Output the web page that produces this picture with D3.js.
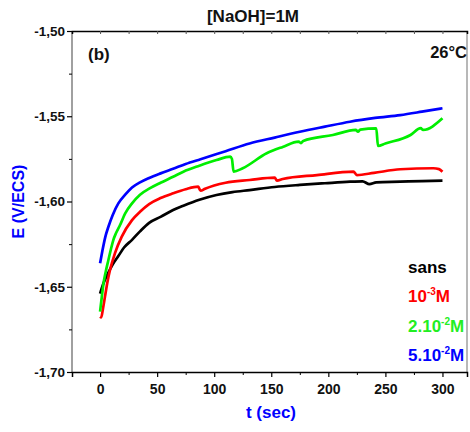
<!DOCTYPE html>
<html>
<head>
<meta charset="utf-8">
<script src="https://cdn.jsdelivr.net/npm/d3@7"></script>
<style>
  body { margin: 0; background: #fff; }
  text { font-family: "Liberation Sans", Arial, sans-serif; font-weight: bold; }
</style>
</head>
<body>
<div id="chart"></div>
<script>
// values (t in sec, E in V/ECS)
var tSans = [0, 3, 7, 11, 16, 21, 28, 35, 43, 53, 64, 73, 87, 102, 116, 131, 153, 175, 197, 219, 230, 236, 242, 263, 282, 300];
var eSans = [-1.654, -1.648, -1.642, -1.637, -1.632, -1.627, -1.6225, -1.6175, -1.6125, -1.609, -1.605, -1.6025, -1.599, -1.5962, -1.5945, -1.5933, -1.5915, -1.5903, -1.5893, -1.5884, -1.5882, -1.5898, -1.5888, -1.5884, -1.588, -1.5878];

var tE3 = [0, 1, 2.5, 4.3, 6.5, 8.7, 13, 19, 28, 35, 43, 53, 64, 75, 86, 88, 92, 110, 131, 153, 155, 160, 190, 222, 225, 240, 263, 292, 297, 300];
var eE3 = [-1.6676, -1.668, -1.663, -1.6558, -1.647, -1.6402, -1.6304, -1.6206, -1.6109, -1.606, -1.6015, -1.598, -1.5952, -1.5928, -1.5913, -1.5937, -1.5925, -1.589, -1.5874, -1.586, -1.5878, -1.5868, -1.5845, -1.5825, -1.5845, -1.5832, -1.5811, -1.5805, -1.581, -1.5825];

var tE2 = [0, 1.5, 3, 5, 7.3, 9.5, 11.6, 14, 17.5, 22, 28, 35, 43, 53, 64, 73, 87, 102, 114, 115.5, 117, 125, 146, 160, 174, 176, 178, 204, 224, 226, 228, 242, 243.5, 250, 272, 281, 283, 300];
var eE2 = [-1.6646, -1.656, -1.648, -1.641, -1.6343, -1.628, -1.6226, -1.6185, -1.6138, -1.607, -1.6011, -1.596, -1.5925, -1.589, -1.5855, -1.5825, -1.579, -1.5757, -1.5737, -1.575, -1.5825, -1.5805, -1.5717, -1.568, -1.5649, -1.5658, -1.5645, -1.561, -1.558, -1.559, -1.5578, -1.5571, -1.5674, -1.566, -1.561, -1.557, -1.558, -1.5512];

var tE5 = [0, 2, 4.5, 7.3, 11, 16, 22, 28, 35, 43, 53, 64, 75, 88, 110, 131, 153, 175, 197, 219, 241, 263, 282, 300];
var eE5 = [-1.6362, -1.629, -1.621, -1.6148, -1.608, -1.6011, -1.596, -1.5918, -1.5888, -1.5862, -1.5835, -1.5808, -1.578, -1.5752, -1.5705, -1.566, -1.5625, -1.5591, -1.5561, -1.5532, -1.551, -1.5493, -1.5473, -1.5453];

var seriesColors = ["#000000", "#ff0000", "#00ee00", "#0000ff"];
var xTicks = [0, 50, 100, 150, 200, 250, 300];
var xMinor = [25, 75, 125, 175, 225, 275];
var yTicks = [-1.70, -1.65, -1.60, -1.55, -1.50];
var yMinor = [-1.675, -1.625, -1.575, -1.525];

(function() {
var width = 470, height = 432;
var mLeft = 72, mRight = 467, mTop = 31, mBottom = 372;

var svg = d3.select("#chart").append("svg")
    .attr("width", width)
    .attr("height", height);

var x = d3.scaleLinear().domain([-24.6, 321.5]).range([mLeft, mRight]);
var y = d3.scaleLinear().domain([-1.70, -1.50]).range([mBottom, mTop]);

var fmt = function(d) { return d3.format(".2f")(d).replace(".", ",").replace("−", "-"); };

// curves
var series = [[tSans, eSans], [tE3, eE3], [tE2, eE2], [tE5, eE5]];
var line = d3.line()
    .x(function(d) { return x(d[0]); })
    .y(function(d) { return y(d[1]); })
    .curve(d3.curveMonotoneX);

series.forEach(function(s, i) {
    var pts = s[0].map(function(t, j) { return [t, s[1][j]]; });
    svg.append("path")
        .datum(pts)
        .attr("fill", "none")
        .attr("stroke", seriesColors[i])
        .attr("stroke-width", 2.7)
        .attr("stroke-linejoin", "round")
        .attr("d", line);
});

// frame: left and right grey, top and bottom black
svg.append("line").attr("x1", mLeft).attr("x2", mLeft).attr("y1", mTop).attr("y2", mBottom)
    .attr("stroke", "#808080").attr("stroke-width", 1.5);
svg.append("line").attr("x1", mRight).attr("x2", mRight).attr("y1", mTop).attr("y2", mBottom)
    .attr("stroke", "#a0a0a0").attr("stroke-width", 1.5);

// bottom axis
var xAxis = svg.append("g")
    .attr("transform", "translate(0," + mBottom + ")")
    .call(d3.axisBottom(x).tickValues(xTicks).tickSize(5).tickPadding(7).tickFormat(d3.format("d")));
xAxis.select(".domain").attr("stroke", "#000").attr("stroke-width", 1.5);
xAxis.selectAll("text").attr("font-size", 14).attr("fill", "#111");
xAxis.selectAll(".tick line").attr("stroke-width", 1.2);
svg.append("g")
    .attr("transform", "translate(0," + mBottom + ")")
    .call(d3.axisBottom(x).tickValues(xMinor).tickSize(3).tickFormat(""))
    .select(".domain").remove();

// top axis (ticks inward)
var topAxis = svg.append("g")
    .attr("transform", "translate(0," + mTop + ")")
    .call(d3.axisBottom(x).tickValues(xTicks.concat(xMinor)).tickSize(3).tickFormat(""));
topAxis.select(".domain").attr("stroke", "#000").attr("stroke-width", 1.5);
topAxis.selectAll(".tick line").attr("stroke", "#555");

// left axis
var yAxis = svg.append("g")
    .attr("transform", "translate(" + mLeft + ",0)")
    .call(d3.axisLeft(y).tickValues(yTicks).tickSize(5).tickPadding(2).tickFormat(fmt));
yAxis.select(".domain").remove();
yAxis.selectAll("text").attr("font-size", 13.5).attr("fill", "#111");
yAxis.selectAll(".tick line").attr("stroke-width", 1.2);
svg.append("g")
    .attr("transform", "translate(" + mLeft + ",0)")
    .call(d3.axisLeft(y).tickValues(yMinor).tickSize(3).tickFormat(""))
    .select(".domain").remove();

// titles
svg.append("text").attr("x", 253).attr("y", 22).attr("text-anchor", "middle")
    .attr("font-size", 17).attr("fill", "#111").text("[NaOH]=1M");
svg.append("text").attr("x", 88).attr("y", 60)
    .attr("font-size", 17).attr("fill", "#111").text("(b)");
svg.append("text").attr("x", 467).attr("y", 58).attr("text-anchor", "end")
    .attr("font-size", 16.5).attr("fill", "#111").text("26°C");

svg.append("text").attr("x", 271).attr("y", 418).attr("text-anchor", "middle")
    .attr("font-size", 17).attr("fill", "#0000ff").text("t (sec)");
svg.append("text")
    .attr("transform", "translate(24," + ((mTop + mBottom) / 2) + ") rotate(-90)")
    .attr("text-anchor", "middle")
    .attr("font-size", 16).attr("fill", "#0000ff").text("E (V/ECS)");

// legend
var legend = [
    {base: "sans", sup: "", tail: ""},
    {base: "10", sup: "-3", tail: "M"},
    {base: "2.10", sup: "-2", tail: "M"},
    {base: "5.10", sup: "-2", tail: "M"}
];
legend.forEach(function(d, i) {
    var t = svg.append("text")
        .attr("x", 408).attr("y", 273 + i * 29.3)
        .attr("font-size", 17).attr("fill", seriesColors[i] === "#00ee00" ? "#22ee22" : seriesColors[i]);
    t.append("tspan").text(d.base);
    if (d.sup) {
        t.append("tspan").attr("font-size", 10).attr("dy", -7).text(d.sup);
        t.append("tspan").attr("dy", 7).text(d.tail);
    }
});
})();
</script>
</body>
</html>
